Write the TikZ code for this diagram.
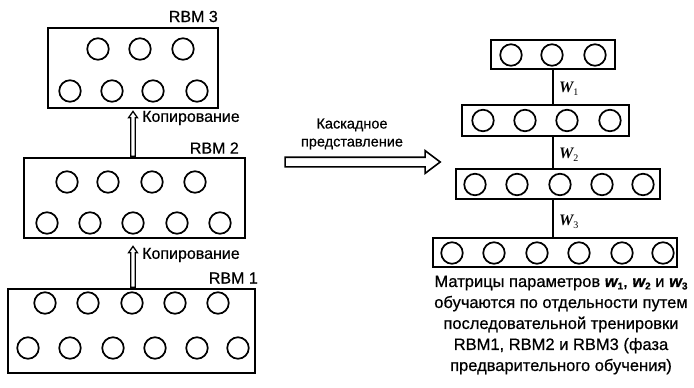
\documentclass[tikz,border=0pt]{standalone}
\usepackage{fontspec}
\setmainfont{Liberation Sans}[FakeBold=0.6]
\newfontfamily\wserif{Liberation Serif}
\usetikzlibrary{shapes.arrows}
\tikzset{
  layerbox/.style={draw, line width=1.8pt, inner sep=0pt},
  unit/.style={draw, circle, line width=1.7pt, minimum size=21.5pt, inner sep=0pt},
  lbl/.style={font=\fontsize{16}{18}\selectfont, inner sep=0pt},
  copyarrow/.style={single arrow, draw, line width=1.3pt, rotate=90, inner xsep=0pt, inner ysep=1.6pt, minimum width=8pt, single arrow head extend=2.2pt, single arrow head indent=0pt, single arrow tip angle=70},
  bigarrow/.style={single arrow, draw, line width=1.6pt, inner xsep=0pt, inner ysep=4pt, minimum width=21pt, single arrow head extend=6.5pt, single arrow tip angle=74},
  wire/.style={line width=1.8pt},
}
\newcommand{\wsub}[1]{{\wserif\bfseries\itshape\fontsize{16}{19}\selectfont W}\raisebox{-3pt}{\fontsize{10}{11}\selectfont\wserif #1}}
\newcommand{\bw}[1]{{\bfseries\itshape w}\raisebox{-2.5pt}{\fontsize{10}{11}\selectfont\bfseries #1}}
\begin{document}
\begin{tikzpicture}[x=1pt,y=-1pt]
\useasboundingbox (0,0) rectangle (694,388);
% left stack
\node[layerbox, minimum width=170pt, minimum height=80pt] (rbm3) at (133,68) {};
\node[layerbox, minimum width=221pt, minimum height=80pt] (rbm2) at (134.5,198) {};
\node[layerbox, minimum width=247pt, minimum height=84pt] (rbm1) at (131.5,331) {};
\node[lbl, anchor=east] (l3) at (218,16.5) {RBM 3};
\node[lbl, anchor=east] (l2) at (239,148) {RBM 2};
\node[lbl, anchor=east] (l1) at (258,278) {RBM 1};
\foreach \x [count=\i] in {98,140,183} \node[unit] (a3t\i) at (\x,49) {};
\foreach \x [count=\i] in {70,112,153,197} \node[unit] (a3b\i) at (\x,91) {};
\foreach \x [count=\i] in {67,108,152,195} \node[unit] (a2t\i) at (\x,182) {};
\foreach \x [count=\i] in {47,90,133,177,220} \node[unit] (a2b\i) at (\x,223) {};
\foreach \x [count=\i] in {45,88,132,175,218} \node[unit] (a1t\i) at (\x,303) {};
\foreach \x [count=\i] in {28,70,113,155,197,238} \node[unit] (a1b\i) at (\x,348) {};
% copy arrows
\node[copyarrow, minimum height=45pt] (c1) at (133,135.5) {};
\node[copyarrow, minimum height=41pt] (c2) at (133,268.5) {};
\node[lbl, anchor=west] (k1) at (142,118) {Копирование};
\node[lbl, anchor=west] (k2) at (142,255) {Копирование};
% big arrow
\node[bigarrow, minimum height=155pt] (big) at (359.5,162) {};
\node[lbl, align=center, font=\fontsize{14.5}{18}\selectfont] (casc) at (352,134) {Каскадное\\представление};
% right stack
\node[layerbox, minimum width=124pt, minimum height=29pt] (r1) at (553,54.5) {};
\node[layerbox, minimum width=167pt, minimum height=31pt] (r2) at (545.5,120.5) {};
\node[layerbox, minimum width=204pt, minimum height=30pt] (r3) at (558,184) {};
\node[layerbox, minimum width=244pt, minimum height=29pt] (r4) at (555,252.5) {};
\foreach \x [count=\i] in {511,552,595} \node[unit] (b1\i) at (\x,55) {};
\foreach \x [count=\i] in {483,525,567,610} \node[unit] (b2\i) at (\x,120.5) {};
\foreach \x [count=\i] in {475,517,560,602,643} \node[unit] (b3\i) at (\x,184.5) {};
\foreach \x [count=\i] in {452,494,537,579,622,663} \node[unit] (b4\i) at (\x,253) {};
\draw[wire] (r1.south -| 553,0) -- (r2.north -| 553,0);
\draw[wire] (r2.south -| 553,0) -- (r3.north -| 553,0);
\draw[wire] (r3.south -| 553,0) -- (r4.north -| 553,0);
\node[inner sep=0pt, anchor=west] (w1) at (559,89) {\wsub{1}};
\node[inner sep=0pt, anchor=west] (w2) at (559,155) {\wsub{2}};
\node[inner sep=0pt, anchor=west] (w3) at (559,222) {\wsub{3}};
\node[lbl, align=center, font=\fontsize{16.5}{21}\selectfont] (desc) at (561,325) {Матрицы параметров \bw{1}, \bw{2} и \bw{3}\\обучаются по отдельности путем\\последовательной тренировки\\RBM1, RBM2 и RBM3 (фаза\\предварительного обучения)};
\end{tikzpicture}
\end{document}
